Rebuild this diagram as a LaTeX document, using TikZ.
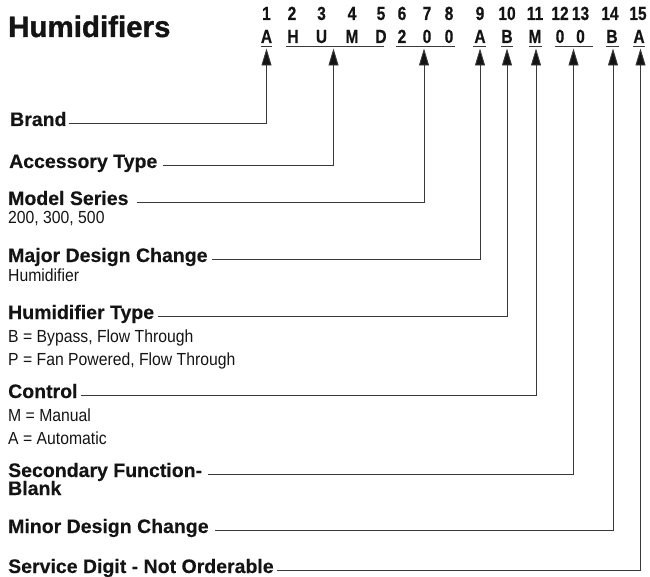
\documentclass[tikz,border=0pt]{standalone}
\usepackage{fontspec}
\setmainfont{Liberation Sans}
\newfontfamily\titlefont{Liberation Sans}[UprightFont={* Bold}, FakeBold=1.2]
\newfontfamily\hdrfont{Liberation Sans}[UprightFont={* Bold}, FakeStretch=0.82, FakeBold=0.4]
\newfontfamily\lblfont{Liberation Sans}[UprightFont={* Bold}, FakeBold=0.3]
\newfontfamily\regfont[FakeStretch=0.9]{Liberation Sans}
\usetikzlibrary{arrows.meta}
\definecolor{ink}{HTML}{141414}
\definecolor{wire}{HTML}{3A3A3A}
\tikzset{
  titletxt/.style={anchor=base west, inner sep=0pt, text=ink, font=\titlefont\fontsize{29.5}{32}\selectfont},
  hdr/.style={anchor=base, inner sep=0pt, text=ink, font=\hdrfont\fontsize{19}{21}\selectfont},
  lbl/.style={anchor=base west, inner sep=0pt, text=ink, font=\lblfont\fontsize{19.5}{22}\selectfont},
  desc/.style={anchor=base west, inner sep=0pt, text=ink, font=\regfont\fontsize{17.5}{20}\selectfont},
  uline/.style={draw=wire, line width=1pt},
  conn/.style={draw=wire, line width=0.9pt, -{Triangle[length=17pt,width=10pt,fill=ink]}},
}
\begin{document}
\begin{tikzpicture}[x=1pt,y=-1pt]
\useasboundingbox (0,0) rectangle (650,577);
% title
\node[titletxt] (title) at (8,37) {Humidifiers};
% column numbers
\foreach \n/\x in {1/266.5,2/292,3/321.5,4/352,5/381,6/402,7/427,8/449,9/480,10/507,11/535,12/560,13/580.5,14/610,15/638}{
  \node[hdr] (n\n) at (\x,20) {\n};
}
% letters
\foreach \n/\x/\c in {1/266.5/A,2/293/H,3/321.5/U,4/352/M,5/381/D,6/402/2,7/427/0,8/449/0,9/480/A,10/507/B,11/535/M,12/560/0,13/580.5/0,14/612/B,15/639/A}{
  \node[hdr] (c\n) at (\x,43) {\c};
}
% underlines
\coordinate (u1a) at (261,47); \coordinate (u1b) at (272,47);
\coordinate (u2a) at (286,47); \coordinate (u2b) at (384,47);
\coordinate (u3a) at (396,47); \coordinate (u3b) at (455,47);
\coordinate (u4a) at (473,47); \coordinate (u4b) at (486,47);
\coordinate (u5a) at (501,47); \coordinate (u5b) at (513,47);
\coordinate (u6a) at (529,47); \coordinate (u6b) at (542,47);
\coordinate (u7a) at (555,47); \coordinate (u7b) at (593,47);
\coordinate (u8a) at (606,47); \coordinate (u8b) at (619,47);
\coordinate (u9a) at (633,47); \coordinate (u9b) at (645,47);
\foreach \i in {1,...,9}{ \draw[uline] (u\i a) -- (u\i b); }
% arrow tips
\coordinate (t1) at (266.5,48.5);
\coordinate (t2) at (333.5,48.5);
\coordinate (t3) at (424,48.5);
\coordinate (t4) at (480,48.5);
\coordinate (t5) at (507,48.5);
\coordinate (t6) at (536,48.5);
\coordinate (t7) at (573.5,48.5);
\coordinate (t8) at (613,48.5);
\coordinate (t9) at (640.5,48.5);
% labels
\node[lbl] (brand) at (10,126) {Brand};
\node[lbl] (acc) at (9,168) {Accessory Type};
\node[lbl] (model) at (8,205) {Model Series};
\node[desc] (modeld) at (8,224) {200, 300, 500};
\node[lbl] (major) at (8,262) {Major Design Change};
\node[desc] (majord) at (8,281) {Humidifier};
\node[lbl] (htype) at (8,319) {Humidifier Type};
\node[desc] (htypeb) at (8,342) {B = Bypass, Flow Through};
\node[desc] (htypep) at (8,365) {P = Fan Powered, Flow Through};
\node[lbl] (ctrl) at (8,398) {Control};
\node[desc] (ctrlm) at (8,421) {M = Manual};
\node[desc] (ctrla) at (8,444) {A = Automatic};
\node[lbl] (sec) at (8,477) {Secondary Function-};
\node[lbl] (secb) at (8,495) {Blank};
\node[lbl] (minor) at (8,533) {Minor Design Change};
\node[lbl] (serv) at (8,573) {Service Digit - Not Orderable};
% connectors
\draw[conn] ([xshift=2pt]brand.mid east) -| (t1);
\draw[conn] ([xshift=5pt]acc.mid east) -| (t2);
\draw[conn] ([xshift=8pt]model.mid east) -| (t3);
\draw[conn] ([xshift=4pt]major.mid east) -| (t4);
\draw[conn] ([xshift=4pt]htype.mid east) -| (t5);
\draw[conn] ([xshift=3pt]ctrl.mid east) -| (t6);
\draw[conn] ([xshift=6pt]sec.mid east) -| (t7);
\draw[conn] ([xshift=6pt]minor.mid east) -| (t8);
\draw[conn] ([xshift=3pt]serv.mid east) -| (t9);
\end{tikzpicture}
\end{document}
